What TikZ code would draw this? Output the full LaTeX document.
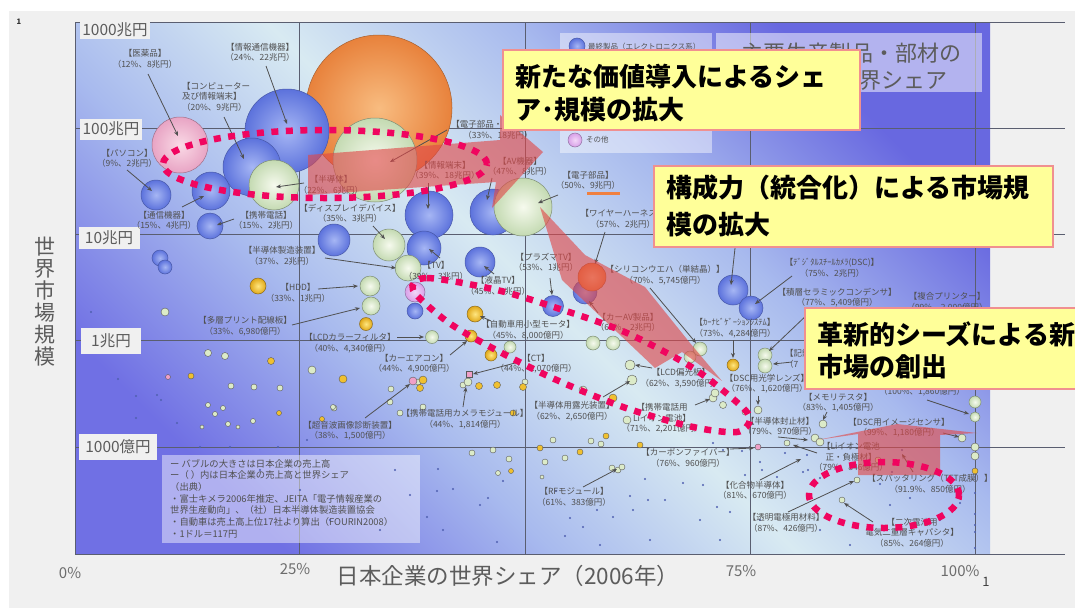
\documentclass[tikz,border=0pt]{standalone}
\usepackage{fontspec}
\setmainfont{Noto Sans CJK JP}
\usetikzlibrary{arrows.meta}
\definecolor{pagegray}{HTML}{F0F0F0}
\definecolor{gdark}{HTML}{7070E4}
\definecolor{gdarktr}{HTML}{6868E0}
\definecolor{gmid}{HTML}{A8BAEE}
\definecolor{glight}{HTML}{D8EAF2}
\definecolor{gridc}{HTML}{5A5E70}
\definecolor{txtg}{HTML}{505050}
\definecolor{tickg}{HTML}{5C5C5C}
\definecolor{bbin}{HTML}{A6B6F4}
\definecolor{bbout}{HTML}{5C72DC}
\definecolor{bbline}{HTML}{4858A8}
\definecolor{bgin}{HTML}{F6FAEE}
\definecolor{bgout}{HTML}{C4DAB2}
\definecolor{bgline}{HTML}{7E8E74}
\definecolor{boin}{HTML}{F8BC80}
\definecolor{boout}{HTML}{E8823C}
\definecolor{boline}{HTML}{A86030}
\definecolor{byin}{HTML}{FFE680}
\definecolor{byout}{HTML}{E0A818}
\definecolor{byline}{HTML}{8A6A20}
\definecolor{bpin}{HTML}{FADAE6}
\definecolor{bpout}{HTML}{E8A4C4}
\definecolor{bpline}{HTML}{A07088}
\definecolor{blin}{HTML}{F2D6F8}
\definecolor{blout}{HTML}{D8A0E8}
\definecolor{blline}{HTML}{9070A0}
\definecolor{cg}{HTML}{DCEBC8}
\definecolor{cy}{HTML}{F0C030}
\definecolor{cpk}{HTML}{F0A0C8}
\definecolor{cbd}{HTML}{5060B0}
\definecolor{arrowred}{HTML}{E04848}
\definecolor{dotred}{HTML}{F0055F}
\definecolor{callfill}{HTML}{FFFF99}
\definecolor{callline}{HTML}{F09090}
\definecolor{ulorange}{HTML}{F08040}
\pgfdeclareverticalshading{chartbg}{100bp}{color(0bp)=(gdark); color(25bp)=(gdark); color(38bp)=(gmid); color(50bp)=(glight); color(62bp)=(gmid); color(75bp)=(gdarktr); color(100bp)=(gdarktr)}
\newcommand{\bub}[4]{\shadedraw[#4] (#1,#2) circle (#3pt);}
\newcommand{\dotc}[4]{\filldraw[dotb,fill=#4] (#1,#2) circle (#3pt);}
\newcommand{\arr}[4]{\draw[arr] (#1,#2) -- (#3,#4);}
\newcommand{\mylab}[3]{\node[lbl] at (#1,#2) {#3};}
\tikzset{
  bb/.style={inner color=bbin, outer color=bbout, draw=bbline, line width=0.5pt},
  bg/.style={inner color=bgin, outer color=bgout, draw=bgline, line width=0.5pt},
  bo/.style={inner color=boin, outer color=boout, draw=boline, line width=0.5pt},
  by/.style={inner color=byin, outer color=byout, draw=byline, line width=0.5pt},
  bp/.style={inner color=bpin, outer color=bpout, draw=bpline, line width=0.5pt},
  bl/.style={inner color=blin, outer color=blout, draw=blline, line width=0.5pt},
  dotb/.style={draw=gray!70!black, line width=0.4pt},
  arr/.style={draw=txtg, line width=0.8pt, -{Stealth[length=5pt,width=4pt]}},
  lbl/.style={font=\fontsize{8.5}{10.5}\selectfont, text=txtg, align=center, inner sep=0pt},
  tickbox/.style={fill=pagegray, draw=none},
  ticktxt/.style={font=\fontsize{15.5}{16}\selectfont, text=tickg, inner sep=0pt},
  xtick/.style={font=\fontsize{15}{16}\selectfont, text=gray!85!black, inner sep=0pt},
  gridl/.style={draw=gridc, line width=0.9pt},
  dotring/.style={draw=dotred, line width=6.5pt, dash pattern=on 7pt off 7.5pt},
  redarrow/.style={fill=arrowred, fill opacity=0.62, draw=none},
  callout/.style={fill=callfill, draw=callline, line width=1.5pt},
  calltxt/.style={font=\fontsize{26}{30}\selectfont\bfseries, text=black, inner sep=0pt, anchor=west},
}
\begin{document}
\begin{tikzpicture}[x=1pt,y=-1pt]
\useasboundingbox (0,0) rectangle (1075,608);
\clip (0,0) rectangle (1075,608);
% page background
\fill[white] (0,0) rectangle (1075,608);
\fill[pagegray] (9,11) rectangle (1075,608);
\node[font=\fontsize{7.5}{8}\selectfont\bfseries, text=black!80] (pg1) at (19,22) {1};
% chart gradient
\shade[shading=chartbg, shading angle=-45] (75,22) rectangle (990,554);
% grid
\foreach \yy in {22,128,234,340,447,554} \draw[gridl] (75,\yy) -- (1065,\yy);
\foreach \xx in {75,299,525,750,975} \draw[gridl] (\xx,22) -- (\xx,554);
% y tick labels
\fill[tickbox] (80,21) rectangle (150,39);
\node[ticktxt] (t1) at (115,30) {1000兆円};
\fill[tickbox] (80,119) rectangle (142,140);
\node[ticktxt] (t2) at (111,129) {100兆円};
\fill[tickbox] (79,227) rectangle (140,249);
\node[ticktxt] (t3) at (109,238) {10兆円};
\fill[tickbox] (81,328) rectangle (141,354);
\node[ticktxt] (t4) at (111,341) {1兆円};
\fill[tickbox] (79,434) rectangle (157,460);
\node[ticktxt] (t5) at (118,447) {1000億円};
% x tick labels
\node[xtick] (x0) at (70,573) {0\%};
\node[xtick] (x25) at (295,569) {25\%};
\node[xtick] (x75) at (741,571) {75\%};
\node[xtick] (x100) at (960,571) {100\%};
\node[font=\fontsize{13}{14}\selectfont, text=black!75] (pg2) at (986,582) {1};
% axis titles
\node[font=\fontsize{21}{22}\selectfont, text=tickg, align=center, inner sep=0pt] (ytitle) at (45,302) {世\\界\\市\\場\\規\\模};
\node[font=\fontsize{22.5}{23}\selectfont, text=tickg, inner sep=0pt] (xtitle) at (508,576) {日本企業の世界シェア（2006年）};
% note box
\fill[white, fill opacity=0.45] (162,455) rectangle (420,543);
\node[font=\fontsize{9.3}{11.7}\selectfont, text=txtg, align=left, anchor=north west, inner sep=0pt] (note) at (170,459) {ー バブルの大きさは日本企業の売上高\\ー（ ）内は日本企業の売上高と世界シェア\\（出典）\\・富士キメラ2006年推定、JEITA「電子情報産業の\\世界生産動向」、（社）日本半導体製造装置協会\\・自動車は売上高上位17社より算出（FOURIN2008）\\・1ドル＝117円};
% legend box
\fill[white, fill opacity=0.45] (560,33) rectangle (712,153);
\bub{577}{46}{8}{bb}
\node[font=\fontsize{7.5}{8}\selectfont, text=txtg, anchor=west, inner sep=0pt] (leg1) at (588,47) {最終製品（エレクトロニクス系）};
\bub{575}{140}{7}{bl}
\node[font=\fontsize{7.5}{8}\selectfont, text=txtg, anchor=west, inner sep=0pt] (leg4) at (586,140) {その他};
% title box
\fill[white, fill opacity=0.5] (716,33) rectangle (982,92);
\node[font=\fontsize{22}{24}\selectfont, text=tickg, anchor=east, inner sep=0pt] (title1) at (962,53) {主要生産製品・部材の};
\node[font=\fontsize{22}{24}\selectfont, text=tickg, anchor=east, inner sep=0pt] (title2) at (948,80) {世界シェア};
% big bubbles
\bub{379}{108}{73}{bo}
\bub{287}{131}{42}{bb}
\bub{180}{145}{28}{bp}
\bub{252}{167}{29}{bb}
\bub{274}{185}{25}{bg}
\bub{375}{160}{42}{bg}
\bub{156}{195}{15}{bb}
\bub{211}{191}{19}{bb}
\bub{210}{226}{13}{bb}
\bub{429}{215}{24}{bb}
\bub{493}{212}{23}{bb}
\bub{523}{207}{29}{bg}
\bub{334}{240}{16}{bb}
\bub{389}{245}{16}{bg}
\bub{424}{248}{17}{bb}
\bub{408}{268}{13}{bg}
\bub{480}{262}{15}{bb}
\bub{160}{258}{8}{bb}
\bub{165}{267}{7}{bb}
\bub{258}{286}{8}{by}
\bub{370}{286}{10}{bg}
\bub{371}{306}{9}{bg}
\bub{366}{324}{6.5}{by}
\bub{415}{292}{10}{bl}
\bub{415}{311}{8}{bb}
\bub{475}{314}{8}{by}
\bub{471}{336}{6}{by}
\bub{432}{337}{6.5}{bg}
\bub{553}{306}{10.5}{bb}
\bub{585}{292}{12}{bb}
\bub{592}{277}{14}{bo}
\bub{733}{290}{15}{bb}
\bub{751}{308}{12}{bb}
\bub{765}{355}{7}{bg}
\bub{765}{366}{7}{bg}
\bub{733}{365}{6}{by}
\bub{593}{343}{7}{bg}
\bub{613}{343}{7}{bg}
\bub{700}{349}{7}{bg}
\bub{690}{357}{6}{bg}
\bub{491}{355}{6}{by}
\bub{510}{347}{6}{bg}
\bub{975}{402}{6}{bg}
\bub{975}{417}{5}{bg}
% small dots
\foreach \x/\y/\r in {165/312/4, 208/353/3.5, 225/356/3.5, 231/386/3, 254/387/3, 280/388/3, 312/370/4, 334/408/3, 391/389/3, 400/413/3, 418/382/3, 463/385/3, 390/402/3, 423/407/3, 472/453/3, 493/450/3, 509/459/3, 498/473/2.5, 553/440/3, 545/462/3, 565/458/3, 591/441/3, 601/444/3, 627/420/4, 542/477/2, 612/468/3, 618/470/3, 622/467/3, 630/365/5, 632/380/5, 525/382/3, 468/382/4, 713/398/4, 723/405/3.5, 758/410/4, 715/393/4, 823/424/4, 815/438/4, 820/442/4, 962/438/4, 787/443/3, 878/460/3, 975/447/4, 975/456/4, 842/500/3, 857/480/3, 208/405/2.5, 223/408/2.5, 215/414/2.5, 253/421/2.5, 228/424/2.5, 238/427/2, 202/427/2, 333/407/2.5, 583/390/4, 745/412/3}
  \dotc{\x}{\y}{\r}{cg};
\foreach \x/\y/\r in {271/361/3.5, 191/376/3, 343/379/4, 423/380/4, 479/386/3.5, 497/385/3.5, 523/387/3.5, 420/388/3.5, 513/413/3, 511/471/2.5, 540/448/3, 580/452/3, 606/436/3, 640/445/3, 613/398/4, 975/471/3, 279/413/2.5, 322/419/2.5}
  \dotc{\x}{\y}{\r}{cy};
\foreach \x/\y/\r in {413/381/4, 168/377/2.5, 758/447/3}
  \dotc{\x}{\y}{\r}{cpk};
\filldraw[fill=cpk, draw=gray!70!black, line width=0.4pt] (466,371) rectangle (472,377);
\foreach \x/\y in {91/312, 118/379, 136/418, 177/423, 136/396, 157/395, 161/400, 200/447, 230/447, 278/447, 307/440, 438/469, 453/489, 437/491, 503/481, 488/498, 480/505, 427/517, 443/530, 497/542, 556/491, 570/518, 583/527, 565/536, 613/517, 597/510, 633/510, 645/479, 630/496, 648/500, 665/500, 683/483, 703/485, 713/443, 723/450, 742/451, 760/462, 762/470, 785/453, 807/455, 745/475, 777/477, 803/472, 808/470, 820/478, 892/472, 902/450, 880/484, 910/498, 890/505, 960/503, 717/507, 730/512, 975/493, 975/514, 975/525, 975/532, 975/548, 260/470, 300/490, 330/520, 230/520, 395/470, 410/495, 380/530, 720/540, 760/520, 820/530, 850/545, 700/520, 650/540, 600/545, 940/520}
  \fill[cbd] (\x,\y) circle (1.2pt);
% orange underline
\draw[ulorange, line width=3pt] (587,193) -- (620,193);
% labels
\mylab{145}{59}{【医薬品】\\（12\%、8兆円）}
\mylab{260}{52.5}{【情報通信機器】\\（24\%、22兆円）}
\node[lbl, align=left, anchor=north west] (comp) at (182,82) {【コンピューター\\及び情報端末】\\（20\%、9兆円）};
\mylab{127}{158.5}{【パソコン】\\（9\%、2兆円）}
\mylab{164}{220.5}{【通信機器】\\（15\%、4兆円）}
\mylab{266}{220.5}{【携帯電話】\\（15\%、2兆円）}
\mylab{331}{185}{【半導体】\\（22\%、6兆円）}
\mylab{498}{130}{【電子部品・デバイス】\\（33\%、18兆円）}
\mylab{445}{170.5}{【情報端末】\\（39\%、18兆円）}
\mylab{520}{166.5}{【AV機器】\\（47\%、8兆円）}
\mylab{588}{180.5}{【電子部品】\\（50\%、9兆円）}
\mylab{350}{213.5}{【ディスプレイデバイス】\\（35\%、3兆円）}
\mylab{282}{256}{【半導体製造装置】\\（37\%、2兆円）}
\mylab{436}{271}{【TV】\\（39\%、3兆円）}
\mylab{298}{293}{【HDD】\\（33\%、1兆円）}
\mylab{498}{286}{【液晶TV】\\（45\%、3兆円）}
\mylab{546}{262.5}{【プラズマTV】\\（53\%、1兆円）}
\mylab{623}{219}{【ワイヤーハーネス】\\（57\%、2兆円）}
\mylab{665}{275}{【シリコンウエハ（単結晶）】\\（70\%、5,745億円）}
\mylab{628}{322.5}{【カーAV製品】\\（63\%、2兆円）}
\mylab{528}{330}{【自動車用小型モータ】\\（45\%、8,000億円）}
\mylab{350}{343}{【LCDカラーフィルタ】\\（40\%、4,340億円）}
\mylab{245}{326}{【多層プリント配線板】\\（33\%、6,980億円）}
\mylab{414}{363.5}{【カーエアコン】\\（44\%、4,900億円）}
\mylab{536}{363.5}{【CT】\\（44\%、2,070億円）}
\mylab{350}{430.5}{【超音波画像診断装置】\\（38\%、1,500億円）}
\mylab{465}{419}{【携帯電話用カメラモジュール】\\（44\%、1,814億円）}
\mylab{572}{411}{【半導体用露光装置】\\（62\%、2,650億円）}
\mylab{662}{418.5}{【携帯電話用\\Liイオン電池】\\（71\%、2,201億円）}
\mylab{681}{378}{【LCD偏光板】\\（62\%、3,590億円）}
\mylab{735}{328}{【ｶｰﾅﾋﾞｹﾞｰｼｮﾝｼｽﾃﾑ】\\（73\%、4,284億円）}
\mylab{832}{268}{【ﾃﾞｼﾞﾀﾙｽﾁｰﾙｶﾒﾗ(DSC)】\\（75\%、2兆円）}
\mylab{837}{297.5}{【積層セラミックコンデンサ】\\（77\%、5,409億円）}
\mylab{947}{302}{【複合プリンター】\\（99\%、2,000億円）}
\node[lbl, align=left, anchor=west] (kiroku) at (785,359) {【記録\\（7};
\mylab{767}{383.5}{【DSC用光学レンズ】\\（76\%、1,620億円）}
\mylab{838}{402.5}{【メモリテスタ】\\（83\%、1,405億円）}
\mylab{922}{392}{（100\%、1,860億円）}
\mylab{780}{426.5}{【半導体封止材】\\（79\%、970億円）}
\mylab{899}{427.5}{【DSC用イメージセンサ】\\（99\%、1,180億円）}
\mylab{851}{457}{【Liイオン電池\\正・負極材】\\（79\%、846億円）}
\mylab{930}{484}{【スパッタリング（TFT成膜）】\\（91.9\%、850億円）}
\mylab{755}{490.5}{【化合物半導体】\\（81\%、670億円）}
\mylab{786}{523}{【透明電極用材料】\\（87\%、426億円）}
\mylab{912}{532.5}{【二次電池用\\電気二重層キャパシタ】\\（85\%、264億円）}
\mylab{688}{458}{【カーボンファイバー】\\（76\%、960億円）}
\mylab{574}{497}{【RFモジュール】\\（61\%、383億円）}
% arrows
\arr{148}{74}{178}{136}
\arr{266}{66}{287}{124}
\arr{224}{117}{244}{159}
\arr{127}{170}{152}{191}
\arr{182}{207}{204}{196}
\arr{234}{219}{217}{225}
\arr{304}{183}{276}{187}
\arr{447}{130}{390}{162}
\arr{428}{183}{428}{209}
\arr{492}{178}{487}{200}
\arr{558}{195}{538}{203}
\arr{373}{226}{385}{239}
\arr{325}{258}{396}{268}
\arr{440}{258}{429}{249}
\arr{318}{289}{358}{286}
\arr{494}{274}{484}{266}
\arr{550}{278}{552}{295}
\arr{605}{232}{595}{264}
\arr{650}{288}{696}{343}
\arr{598}{313}{589}{301}
\arr{491}{321}{480}{316}
\arr{397}{337}{424}{337}
\arr{292}{325}{360}{308}
\arr{450}{355}{467}{341}
\arr{519}{362}{473}{374}
\arr{365}{418}{410}{384}
\arr{463}{407}{466}{387}
\arr{603}{397}{630}{381}
\arr{695}{405}{710}{399}
\arr{652}{368}{635}{365}
\arr{733}{340}{733}{358}
\arr{792}{276}{755}{304}
\arr{735}{248}{731}{285}
\arr{810}{312}{769}{351}
\arr{792}{362}{773}{364}
\arr{758}{396}{758}{405}
\arr{827}{412}{823}{420}
\arr{927}{400}{969}{414}
\arr{943}{433}{959}{437}
\arr{817}{453}{793}{445}
\arr{913}{472}{902}{454}
\arr{760}{480}{801}{459}
\arr{788}{512}{854}{481}
\arr{873}{522}{844}{503}
\arr{583}{487}{617}{469}
\arr{778}{437}{808}{440}
\arr{730}{449}{754}{448}
% translucent red arrows
\fill[redarrow] (308,155) -- (500,140) -- (500,115) -- (543,152) -- (492,208) -- (496,182) -- (308,195) -- cycle;
\fill[redarrow] (540,207) -- (585,255) -- (645,287) -- (690,343) -- (722,381) -- (682,352) -- (655,368) -- (562,280) -- cycle;
\fill[redarrow] (817,440) -- (897,424) -- (977,433) -- (940,435) -- (940,475) -- (858,475) -- (858,434) -- cycle;
% dotted rings
\draw[dotring] (325,164) ellipse [x radius=162pt, y radius=34pt];
\draw[dotring] plot[smooth cycle] coordinates {(413,290) (427,278) (497,290) (563,310) (627,333) (693,368) (740,405) (750,420) (737,432) (693,427) (623,407) (550,377) (483,343) (445,320)};
\draw[dotring] (884,495) ellipse [x radius=75pt, y radius=33pt];
% callouts
\draw[callout] (503,50) rectangle (860,130);
\node[calltxt] (c1a) at (515,77) {新たな価値導入によるシェ};
\node[calltxt] (c1b) at (515,110) {ア･規模の拡大};
\draw[callout] (654,166) rectangle (1053,247);
\node[calltxt] (c2a) at (666,188) {構成力（統合化）による市場規};
\node[calltxt] (c2b) at (666,225) {模の拡大};
\draw[callout] (805,308) rectangle (1085,389);
\node[calltxt] (c3a) at (817,334) {革新的シーズによる新};
\node[calltxt] (c3b) at (817,367) {市場の創出};
\end{tikzpicture}
\end{document}
